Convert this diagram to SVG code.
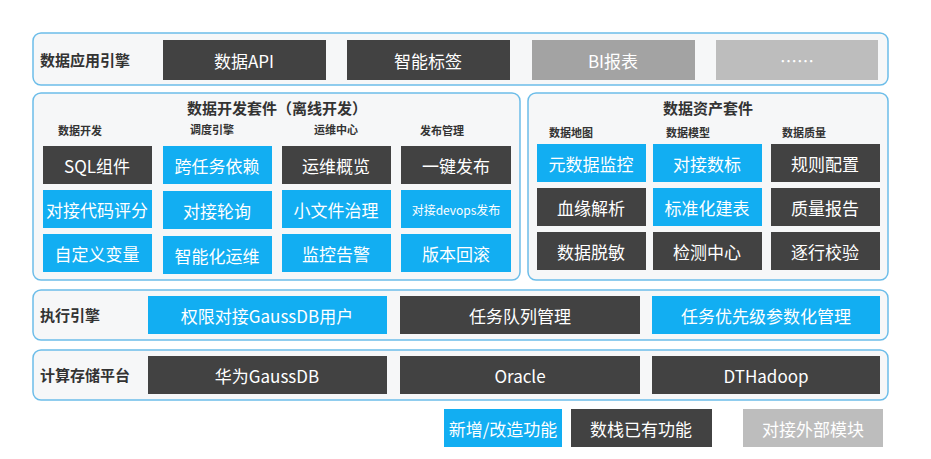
<svg xmlns="http://www.w3.org/2000/svg" width="931" height="459" viewBox="0 0 931 459">
<style>
text{font-family:"Noto Sans CJK SC","Liberation Sans",sans-serif;text-anchor:middle;dominant-baseline:central}
.p{fill:#f6f7f8;stroke:#6cbde9;stroke-width:1.5}
.b{fill:#12aef2}.d{fill:#424242}.g{fill:#a3a3a3}.l{fill:#bdbdbd}
.w{fill:#fff;font-size:17px}
.h{fill:#333;font-size:15px;font-weight:bold}
.s{fill:#333;font-size:11px;font-weight:bold}
.k{fill:#333;font-size:15px;font-weight:bold;text-anchor:start}
</style>
<rect width="931" height="459" fill="#fff"/>
<g id="app"><rect class="p" x="33" y="33" width="855" height="52" rx="8"/>
<text class="k" x="40" y="59">数据应用引擎</text>
<rect class="d" x="163" y="40" width="163" height="40"/><text class="w" x="244" y="60">数据API</text>
<rect class="d" x="347" y="40" width="163" height="40"/><text class="w" x="428" y="60">智能标签</text>
<rect class="g" x="532" y="40" width="163" height="40"/><text class="w" x="613" y="60">BI报表</text>
<rect class="l" x="716" y="40" width="162" height="40"/><text class="w" x="797" y="60">……</text></g>
<g id="dev"><rect class="p" x="33" y="93" width="487" height="187" rx="8"/>
<text class="h" x="277" y="107">数据开发套件（离线开发）</text>
<text class="s" x="80" y="130">数据开发</text><text class="s" x="212" y="129">调度引擎</text><text class="s" x="336" y="129">运维中心</text><text class="s" x="442" y="130">发布管理</text>
<rect class="d" x="43" y="146" width="109" height="38"/><text class="w" x="97" y="165">SQL组件</text>
<rect class="b" x="43" y="190" width="109" height="38"/><text class="w" x="97" y="209">对接代码评分</text>
<rect class="b" x="43" y="234" width="109" height="38"/><text class="w" x="97" y="253">自定义变量</text>
<rect class="b" x="163" y="146" width="109" height="38"/><text class="w" x="217" y="165">跨任务依赖</text>
<rect class="b" x="163" y="191" width="109" height="38"/><text class="w" x="217" y="210">对接轮询</text>
<rect class="b" x="163" y="236" width="109" height="38"/><text class="w" x="217" y="255">智能化运维</text>
<rect class="d" x="282" y="146" width="109" height="38"/><text class="w" x="336" y="165">运维概览</text>
<rect class="b" x="282" y="190" width="109" height="38"/><text class="w" x="336" y="209">小文件治理</text>
<rect class="b" x="282" y="234" width="109" height="38"/><text class="w" x="336" y="253">监控告警</text>
<rect class="d" x="401" y="146" width="110" height="38"/><text class="w" x="456" y="165">一键发布</text>
<rect class="b" x="401" y="190" width="110" height="38"/><text class="w" x="456" y="209" style="font-size:12px">对接devops发布</text>
<rect class="b" x="401" y="234" width="110" height="38"/><text class="w" x="456" y="253">版本回滚</text></g>
<g id="asset"><rect class="p" x="528" y="93" width="360" height="187" rx="8"/>
<text class="h" x="708" y="107">数据资产套件</text>
<text class="s" x="571" y="132">数据地图</text><text class="s" x="688" y="132">数据模型</text><text class="s" x="804" y="132">数据质量</text>
<rect class="b" x="537" y="144" width="109" height="38"/><text class="w" x="591" y="163">元数据监控</text>
<rect class="d" x="537" y="188" width="109" height="38"/><text class="w" x="591" y="207">血缘解析</text>
<rect class="d" x="537" y="232" width="109" height="38"/><text class="w" x="591" y="251">数据脱敏</text>
<rect class="b" x="653" y="144" width="109" height="38"/><text class="w" x="707" y="163">对接数标</text>
<rect class="b" x="653" y="188" width="109" height="38"/><text class="w" x="707" y="207">标准化建表</text>
<rect class="d" x="653" y="232" width="109" height="38"/><text class="w" x="707" y="251">检测中心</text>
<rect class="d" x="771" y="144" width="109" height="38"/><text class="w" x="825" y="163">规则配置</text>
<rect class="d" x="771" y="188" width="109" height="38"/><text class="w" x="825" y="207">质量报告</text>
<rect class="d" x="771" y="232" width="109" height="38"/><text class="w" x="825" y="251">逐行校验</text></g>
<g id="exec"><rect class="p" x="33" y="290" width="855" height="50" rx="8"/>
<text class="k" x="40" y="314">执行引擎</text>
<rect class="b" x="148" y="296" width="239" height="38"/><text class="w" x="267" y="315">权限对接GaussDB用户</text>
<rect class="d" x="400" y="296" width="240" height="38"/><text class="w" x="520" y="315">任务队列管理</text>
<rect class="b" x="652" y="296" width="228" height="38"/><text class="w" x="766" y="315">任务优先级参数化管理</text></g>
<g id="storage"><rect class="p" x="33" y="350" width="855" height="50" rx="8"/>
<text class="k" x="40" y="374">计算存储平台</text>
<rect class="d" x="148" y="356" width="239" height="38"/><text class="w" x="267" y="375">华为GaussDB</text>
<rect class="d" x="400" y="356" width="240" height="38"/><text class="w" x="520" y="375">Oracle</text>
<rect class="d" x="652" y="356" width="228" height="38"/><text class="w" x="766" y="375">DTHadoop</text></g>
<g id="legend">
<rect class="b" x="444" y="409" width="118" height="38"/><text class="w" x="503" y="428">新增/改造功能</text>
<rect class="d" x="571" y="409" width="141" height="38"/><text class="w" x="641" y="428">数栈已有功能</text>
<rect class="l" x="743" y="409" width="140" height="38"/><text class="w" x="813" y="428">对接外部模块</text></g>
<g id="connectors"/>
</svg>
